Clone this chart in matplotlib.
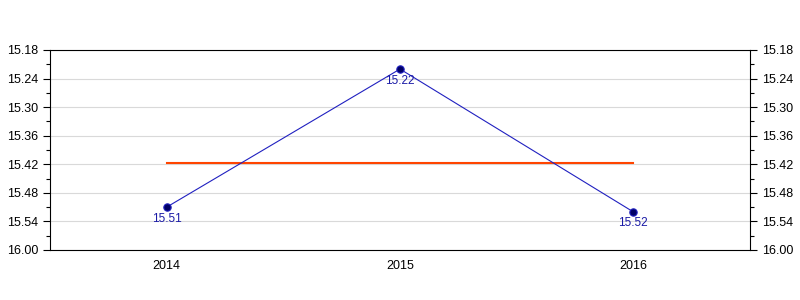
import numpy as np
import matplotlib.pyplot as plt
from matplotlib.ticker import FixedLocator, MultipleLocator

plt.rcParams['font.family'] = ['Liberation Sans', 'DejaVu Sans']

# datos
years = ['2014', '2015', '2016']
values = [15.51, 15.22, 15.52]
avg = np.mean(values)
ytick_vals = [15.18, 15.24, 15.30, 15.36, 15.42, 15.48, 15.54, 15.60]
ytick_labels = ['15.18', '15.24', '15.30', '15.36', '15.42', '15.48', '15.54', '16.00']

fig = plt.figure(figsize=(8, 3), dpi=100)
ax = fig.add_axes([50 / 800, 50 / 300, 700 / 800, 200 / 300])

x = np.arange(len(years))
ax.plot(x, values, color='#2020c0', lw=0.8, zorder=3)
ax.scatter(x, values, s=28, color='#000066', edgecolor='#2020c0', lw=0.8, zorder=4)
ax.plot([x[0], x[-1]], [avg, avg], color='#ff4500', lw=1.5, zorder=2)

for xi, v in zip(x, values):
    ax.annotate(f'{v:.2f}', (xi, v), xytext=(0, -4), textcoords='offset points',
                ha='center', va='top', fontsize=8.5, color='#1a1aa6')

ax.set_xlim(-0.5, 2.5)
ax.set_ylim(15.60, 15.18)
ax.set_xticks(x)
ax.set_xticklabels(years)
ax.yaxis.set_major_locator(FixedLocator(ytick_vals))
ax.set_yticklabels(ytick_labels)
ax.yaxis.set_minor_locator(MultipleLocator(0.03))
ax.tick_params(axis='y', which='both', left=True, right=True, labelleft=True,
               labelright=True, labelsize=9, direction='out')
ax.tick_params(axis='y', which='major', length=5, width=0.8)
ax.tick_params(axis='y', which='minor', length=3, width=0.8)
ax.tick_params(axis='x', length=0, labelsize=9, pad=7)
ax.grid(axis='y', which='major', color='#d9d9d9', lw=0.8)
ax.set_axisbelow(True)
for s in ax.spines.values():
    s.set_linewidth(0.8)

plt.savefig('out.png', dpi=100)
